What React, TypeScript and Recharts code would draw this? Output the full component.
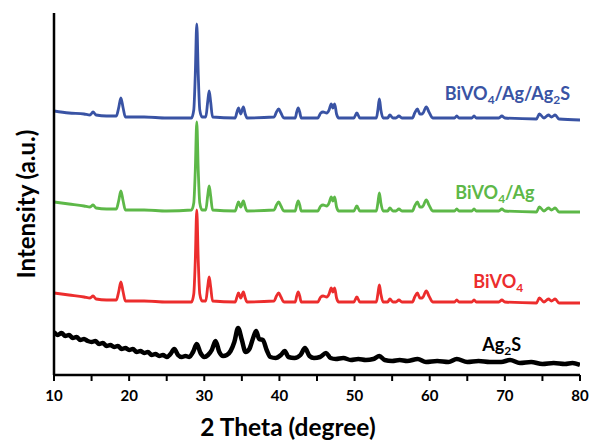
import { LineChart, Line, XAxis, YAxis, ReferenceDot, Label } from "recharts";

// 2-theta (deg) vs intensity (a.u.); each pattern is stacked by its offset
const ag2s: [number, number][] = [
  [10, 33], [10.5, 30], [11, 32], [11.5, 29], [12, 30], [12.5, 27], [13, 28], [13.5, 25],
  [14, 26], [14.5, 24], [15, 23], [15.5, 24], [16, 21], [16.5, 22], [17, 19], [17.5, 20],
  [18, 18], [18.5, 19], [19, 16], [19.5, 17], [20, 15], [20.5, 16], [21, 13], [21.5, 14],
  [22, 12], [22.5, 13], [23, 10], [23.5, 11], [24, 9], [24.5, 10], [25, 8], [25.5, 11],
  [26, 16], [26.5, 10], [27, 8], [27.5, 9], [28, 8], [28.5, 13], [29, 21], [29.5, 12],
  [30, 8], [30.5, 10], [31, 15], [31.5, 24], [32, 13], [32.5, 9], [33, 10], [33.5, 14],
  [34, 23], [34.5, 37], [35, 25], [35.5, 13], [36, 16], [36.5, 27], [36.9, 34], [37.3, 26],
  [37.8, 25], [38.3, 15], [38.8, 8], [39.5, 7], [40.2, 10], [40.7, 14], [41.2, 8], [42, 7],
  [42.8, 10], [43.4, 17], [44, 9], [44.6, 7], [45.4, 8], [46.2, 12], [46.8, 7], [47.5, 6],
  [48.5, 7], [49.5, 5], [50.5, 6], [51.5, 5], [52.5, 6], [53.3, 9], [54, 5], [55, 4],
  [56, 5], [57, 4], [58.4, 6], [59.5, 3], [61, 4], [62.5, 3], [63.6, 6], [65, 3],
  [66.5, 4], [68, 3], [69.5, 3], [70.7, 5], [72, 2], [73.5, 3], [75, 1], [76.5, 2],
  [78, 1], [79, 2], [80, 0],
];

const bivo4: [number, number][] = [
  [10, 10], [12, 8], [14, 6], [14.8, 5], [15.2, 7], [15.6, 4], [17, 3], [18.3, 3],
  [18.6, 11], [18.9, 21], [19.2, 11], [19.5, 2], [22, 2], [25, 1], [28.3, 1], [28.6, 9],
  [28.8, 42], [29, 93], [29.2, 42], [29.4, 9], [29.7, 2], [30.2, 2], [30.45, 16], [30.65, 26],
  [30.85, 16], [31.1, 2], [34.1, 1], [34.35, 6], [34.55, 10], [34.85, 5], [35.2, 11], [35.45, 5],
  [35.7, 1], [39.3, 2], [39.6, 7], [39.9, 10], [40.2, 6], [40.6, 1], [42.1, 1], [42.3, 7],
  [42.5, 11], [42.7, 7], [42.9, 1], [45.1, 1], [45.5, 6], [45.8, 7], [46.3, 6], [46.6, 9],
  [46.9, 15], [47.1, 11], [47.35, 15], [47.6, 5], [47.9, 1], [49.9, 1], [50.3, 6], [50.7, 1],
  [52.9, 1], [53.1, 9], [53.3, 18], [53.5, 9], [53.8, 1], [54.4, 1], [54.7, 4], [55.1, 1],
  [55.5, 1], [55.9, 3], [56.3, 1], [57.7, 1], [58, 6], [58.35, 10], [58.7, 5], [59, 5],
  [59.55, 12], [59.9, 7], [60.4, 1], [63.3, 1], [63.6, 3], [63.9, 1], [65.6, 1], [65.9, 3],
  [66.2, 1], [69.2, 1], [69.6, 3], [70, 1], [74.2, 0], [74.6, 5], [75.2, 1], [75.8, 4],
  [76.2, 2], [76.7, 4], [77.2, 0], [80, 0],
];

const bivo4Ag: [number, number][] = [
  [10, 10], [12, 8], [14, 6], [14.8, 5], [15.2, 7], [15.6, 4], [17, 3], [18.3, 3],
  [18.6, 11], [18.9, 21], [19.2, 11], [19.5, 2], [22, 2], [25, 1], [28.3, 2], [28.6, 9],
  [28.8, 41], [29, 90], [29.2, 41], [29.4, 9], [29.7, 2], [30.2, 2], [30.45, 16], [30.65, 26],
  [30.85, 16], [31.1, 2], [34.1, 1], [34.35, 6], [34.55, 10], [34.85, 5], [35.2, 11], [35.45, 5],
  [35.7, 1], [39.3, 2], [39.6, 7], [39.9, 10], [40.2, 6], [40.6, 1], [42.1, 1], [42.3, 7],
  [42.5, 11], [42.7, 7], [42.9, 1], [45.1, 1], [45.5, 6], [45.8, 7], [46.3, 6], [46.6, 9],
  [46.9, 15], [47.1, 11], [47.35, 15], [47.6, 5], [47.9, 1], [49.9, 1], [50.3, 6], [50.7, 1],
  [52.9, 1], [53.1, 9], [53.3, 19], [53.5, 9], [53.8, 1], [54.4, 1], [54.7, 4], [55.1, 1],
  [55.5, 1], [55.9, 3], [56.3, 1], [57.7, 1], [58, 6], [58.35, 10], [58.7, 5], [59, 5],
  [59.55, 12], [59.9, 7], [60.4, 1], [63.3, 1], [63.6, 3], [63.9, 1], [65.6, 1], [65.9, 3],
  [66.2, 1], [69.2, 1], [69.6, 3], [70, 1], [74.2, 0], [74.6, 5], [75.2, 1], [75.8, 4],
  [76.2, 2], [76.7, 4], [77.2, 0], [80, 0],
];

const bivo4AgAg2s: [number, number][] = [
  [10, 9], [12, 7], [14, 6], [14.8, 5], [15.2, 8], [15.6, 5], [17, 4], [18.3, 4],
  [18.6, 12], [18.9, 22], [19.2, 12], [19.5, 3], [22, 3], [25, 2], [28.3, 2], [28.6, 10],
  [28.8, 45], [29, 96], [29.2, 45], [29.4, 10], [29.7, 3], [30.2, 3], [30.45, 18], [30.65, 29],
  [30.85, 18], [31.1, 3], [34.1, 2], [34.35, 8], [34.55, 12], [34.85, 6], [35.2, 13], [35.45, 6],
  [35.7, 2], [39.3, 3], [39.6, 8], [39.9, 11], [40.2, 7], [40.6, 2], [42.1, 2], [42.3, 8],
  [42.5, 12], [42.7, 8], [42.9, 2], [45.1, 2], [45.5, 7], [45.8, 8], [46.3, 7], [46.6, 10],
  [46.9, 16], [47.1, 12], [47.35, 16], [47.6, 6], [47.9, 2], [49.9, 2], [50.3, 7], [50.7, 2],
  [52.9, 2], [53.1, 10], [53.3, 21], [53.5, 10], [53.8, 2], [54.4, 2], [54.7, 5], [55.1, 2],
  [55.5, 2], [55.9, 4], [56.3, 2], [57.7, 2], [58, 7], [58.35, 11], [58.7, 6], [59, 6],
  [59.55, 13], [59.9, 8], [60.4, 2], [63.3, 2], [63.6, 4], [63.9, 2], [65.6, 2], [65.9, 4],
  [66.2, 2], [69.2, 2], [69.6, 4], [70, 2], [74.2, 1], [74.6, 6], [75.2, 2], [75.8, 5],
  [76.2, 3], [76.7, 5], [77.2, 1], [80, 0],
];

const offsets = [10, 72, 163, 255];
const xTicks = [10, 15, 20, 25, 30, 35, 40, 45, 50, 55, 60, 65, 70, 75, 80];

const font = "Lato, 'Open Sans', sans-serif";

const toPoints = (arr: [number, number][], off: number) =>
  arr.map(([x, y]) => ({ x, y: y + off }));

const series = [
  { key: "ag2s", data: toPoints(ag2s, offsets[0]), color: "#000000", width: 4.5 },
  { key: "bivo4", data: toPoints(bivo4, offsets[1]), color: "#ec2d2d", width: 2.8 },
  { key: "bivo4Ag", data: toPoints(bivo4Ag, offsets[2]), color: "#5db848", width: 2.8 },
  { key: "bivo4AgAg2s", data: toPoints(bivo4AgAg2s, offsets[3]), color: "#3953a4", width: 2.8 },
];

// label text split into [main, subscript] pieces
const tags = [
  { parts: [["BiVO", "4"], ["/Ag/Ag", "2"], ["S", ""]], x: 62.0, y: 282, color: "#3953a4" },
  { parts: [["BiVO", "4"], ["/Ag", ""]], x: 63.4, y: 183, color: "#5db848" },
  { parts: [["BiVO", "4"]], x: 65.8, y: 94, color: "#ec2d2d" },
  { parts: [["Ag", "2"], ["S", ""]], x: 67.0, y: 31, color: "#000000" },
];

const TagText = ({ viewBox, parts, color }: any) => (
  <text
    x={viewBox.x}
    y={viewBox.y}
    dominantBaseline="central"
    fill={color}
    fontFamily={font}
    fontWeight={700}
    fontSize={18}
  >
    {parts.map(([main, sub]: string[], i: number) => {
      const back = i > 0 && parts[i - 1][1] ? -6 : 0;
      return [
        <tspan key={`m${i}`} dy={back}>{main}</tspan>,
        sub ? (
          <tspan key={`s${i}`} dy={6} fontSize={12}>
            {sub}
          </tspan>
        ) : null,
      ];
    })}
  </text>
);

export default function App() {
  return (
    <div style={{ position: "absolute", left: 0, top: 0, background: "#fff" }}>
      <LineChart width={592} height={442} margin={{ top: 13, right: 12, bottom: 0, left: 0 }}>
        <XAxis
          dataKey="x"
          type="number"
          domain={[10, 80]}
          ticks={xTicks}
          allowDataOverflow
          tickFormatter={(v) => (v % 10 === 0 ? String(v) : "")}
          height={67}
          tickSize={6}
          tickMargin={9}
          axisLine={{ stroke: "#000", strokeWidth: 2.5 }}
          tickLine={{ stroke: "#000", strokeWidth: 2 }}
          tick={{ fill: "#000", fontSize: 15, fontWeight: 700, fontFamily: font }}
        >
          <Label
            content={() => (
              <text x={288} y={436} textAnchor="middle" fill="#000" fontFamily={font} fontWeight={700} fontSize={24.5}>
                2 Theta (degree)
              </text>
            )}
          />
        </XAxis>
        <XAxis xAxisId="top" orientation="top" type="number" domain={[10, 80]} height={0} tick={false} tickLine={false} axisLine={{ stroke: "#000", strokeWidth: 2.5 }} />
        <YAxis
          type="number"
          domain={[0, 362]}
          width={54}
          tick={false}
          tickLine={false}
          axisLine={{ stroke: "#000", strokeWidth: 2.5 }}
        >
          <Label
            content={() => (
              <text
                x={25}
                y={204}
                transform="rotate(-90 25 204)"
                textAnchor="middle"
                dominantBaseline="central"
                fill="#000"
                fontFamily={font}
                fontWeight={700}
                fontSize={24}
              >
                Intensity (a.u.)
              </text>
            )}
          />
        </YAxis>
        <YAxis yAxisId="right" orientation="right" type="number" domain={[0, 362]} width={0} tick={false} tickLine={false} axisLine={{ stroke: "#000", strokeWidth: 2.5 }} />
        {series.map((s) => (
          <Line
            key={s.key}
            data={s.data}
            dataKey="y"
            type="monotone"
            stroke={s.color}
            strokeWidth={s.width}
            strokeLinejoin="round"
            dot={false}
            activeDot={false}
            isAnimationActive={false}
          />
        ))}
        {tags.map((t, i) => (
          <ReferenceDot
            key={i}
            x={t.x}
            y={t.y}
            r={0}
            fill="none"
            stroke="none"
            label={<TagText parts={t.parts} color={t.color} />}
          />
        ))}
      </LineChart>
    </div>
  );
}
